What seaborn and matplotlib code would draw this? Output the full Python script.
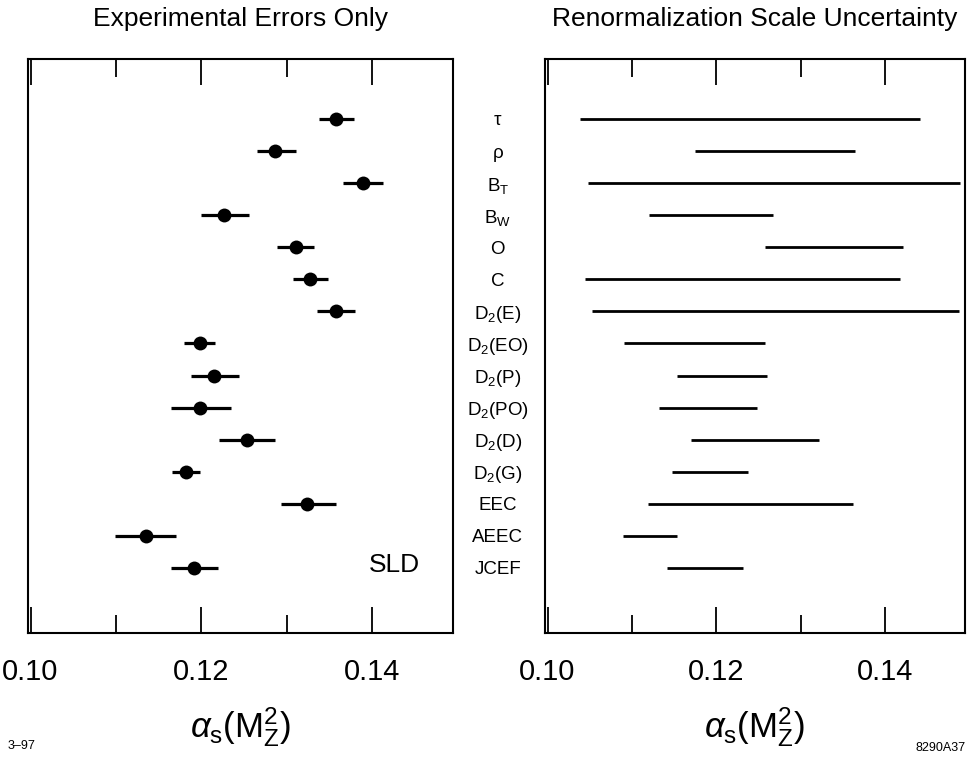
import matplotlib
matplotlib.use("Agg")
import matplotlib.pyplot as plt
import seaborn as sns
import numpy as np
import pandas as pd

# ---------------- data ----------------
observables = ["τ", "ρ", r"B$_\mathrm{T}$", r"B$_\mathrm{W}$", "O", "C",
               r"D$_2$(E)", r"D$_2$(EO)", r"D$_2$(P)", r"D$_2$(PO)", r"D$_2$(D)",
               r"D$_2$(G)", "EEC", "AEEC", "JCEF"]
alpha_central = [0.1358, 0.1287, 0.1389, 0.1227, 0.1311, 0.1328, 0.1358, 0.1198,
                 0.1215, 0.1198, 0.1254, 0.1182, 0.1324, 0.1135, 0.1192]
exp_err_lo = [0.0020, 0.0022, 0.0023, 0.0027, 0.0022, 0.0021, 0.0022, 0.0018,
              0.0027, 0.0033, 0.0033, 0.0016, 0.0030, 0.0036, 0.0027]
exp_err_hi = [0.0021, 0.0024, 0.0024, 0.0029, 0.0021, 0.0021, 0.0022, 0.0018,
              0.0029, 0.0037, 0.0033, 0.0017, 0.0034, 0.0035, 0.0028]
scale_lo = [0.1038, 0.1175, 0.1048, 0.1120, 0.1258, 0.1045, 0.1053, 0.1091,
            0.1153, 0.1132, 0.1170, 0.1147, 0.1119, 0.1089, 0.1142]
scale_hi = [0.1442, 0.1365, 0.1489, 0.1267, 0.1422, 0.1418, 0.1488, 0.1258,
            0.1260, 0.1248, 0.1322, 0.1238, 0.1362, 0.1154, 0.1232]
tick_values = [0.10, 0.12, 0.14]
tick_labels = ["0.10", "0.12", "0.14"]
minor_values = [0.11, 0.13]

df = pd.DataFrame({"obs": observables, "row": np.arange(len(observables)),
                   "alpha": alpha_central, "elo": exp_err_lo, "ehi": exp_err_hi,
                   "slo": scale_lo, "shi": scale_hi})

# ---------------- style ----------------
sns.set_theme(style="white")
FONT = ["Liberation Sans", "DejaVu Sans"]
plt.rcParams["font.family"] = FONT
plt.rcParams["mathtext.fontset"] = "custom"
plt.rcParams["mathtext.rm"] = "Liberation Sans"
plt.rcParams["mathtext.it"] = "Liberation Sans:italic"
plt.rcParams["mathtext.bf"] = "Liberation Sans:bold"
plt.rcParams["text.color"] = "black"
plt.rcParams["axes.labelcolor"] = "black"
plt.rcParams["xtick.color"] = "black"
plt.rcParams["ytick.color"] = "black"

W, H = 969, 757
fig = plt.figure(figsize=(W / 100, H / 100), dpi=100)
axL = fig.add_axes([28 / W, 1 - 633 / H, 425 / W, 574 / H])
axR = fig.add_axes([545 / W, 1 - 633 / H, 420 / W, 574 / H])

# left: points with experimental errors
axL.errorbar(df["alpha"], df["row"], xerr=[df["elo"], df["ehi"]], fmt="none",
             ecolor="black", elinewidth=2.3, capsize=0, zorder=2)
sns.scatterplot(data=df, x="alpha", y="row", ax=axL, color="black", s=100,
                edgecolor="black", linewidth=0, zorder=3, legend=False)
axL.text(0.1426, 13.9, "SLD", fontsize=19, ha="center", va="center")

# right: renormalisation-scale ranges
axR.hlines(df["row"], df["slo"], df["shi"], color="black", linewidth=2.0)

for ax, title in [(axL, "Experimental Errors Only"),
                  (axR, "Renormalization Scale Uncertainty")]:
    ax.set_xlim(0.0997, 0.1495)
    ax.set_ylim(16.03, -1.87)
    ax.set_xticks(tick_values)
    ax.set_xticklabels(tick_labels, fontsize=21)
    ax.set_xticks(minor_values, minor=True)
    ax.tick_params(axis="x", which="major", direction="in", length=19, width=1.3,
                   top=True, bottom=True, pad=18, colors="black")
    ax.tick_params(axis="x", which="minor", direction="in", length=13, width=1.3,
                   top=True, bottom=True)
    for s in ax.spines.values():
        s.set_color("black")
        s.set_linewidth(1.5)
    ax.set_xlabel(r"$\alpha_\mathrm{s}(\mathrm{M}_\mathrm{Z}^2)$", fontsize=25, labelpad=14)
    ax.set_title(title, fontsize=19, pad=24)
    ax.set_ylabel("")

axL.set_yticks([])
axR.set_yticks(df["row"])
axR.set_yticklabels(df["obs"], fontsize=13.5, ha="center")
axR.tick_params(axis="y", length=0, pad=34)

fig.text(8 / W, 1 - 746 / H, "3–97", fontsize=9, va="center", ha="left")
fig.text(966 / W, 1 - 748 / H, "8290A37", fontsize=9, va="center", ha="right")

fig.savefig("out.png", dpi=100, facecolor="white")
